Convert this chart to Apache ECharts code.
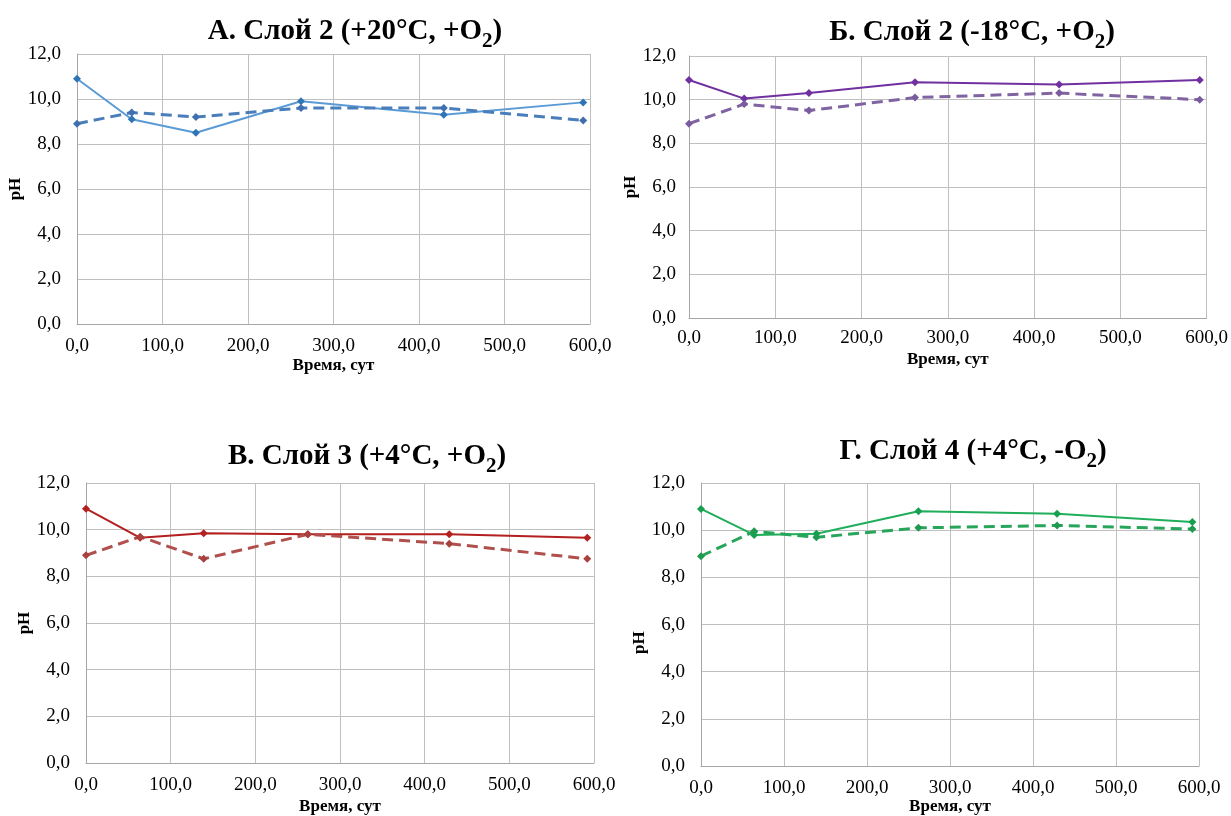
<!DOCTYPE html>
<html>
<head>
<meta charset="utf-8">
<script src="https://cdn.jsdelivr.net/npm/echarts@6/dist/echarts.min.js"></script>
<style>
  html, body { margin: 0; padding: 0; background: #fff; }
  #chart { width: 1231px; height: 816px; }
</style>
</head>
<body>
<div id="chart"></div>
<script>
// время, сут
const days = [0, 64, 139, 262, 429, 592];

// pH, сплошная и пунктирная линии для каждой панели
const phA_solid = [10.9, 9.1, 8.5, 9.9, 9.3, 9.85];
const phA_dash = [8.9, 9.4, 9.2, 9.6, 9.6, 9.05];
const phB_solid = [10.9, 10.05, 10.3, 10.8, 10.7, 10.9];
const phB_dash = [8.9, 9.8, 9.5, 10.1, 10.3, 10.0];
const phV_solid = [10.9, 9.65, 9.85, 9.8, 9.8, 9.65];
const phV_dash = [8.9, 9.7, 8.75, 9.8, 9.4, 8.75];
const phG_solid = [10.9, 9.8, 9.85, 10.8, 10.7, 10.35];
const phG_dash = [8.9, 9.95, 9.7, 10.1, 10.2, 10.05];

const titles = [
  "А. Слой 2 (+20°C, +O{s|2})",
  "Б. Слой 2 (-18°C, +O{s|2})",
  "В. Слой 3 (+4°C, +O{s|2})",
  "Г. Слой 4 (+4°C, -O{s|2})",
];

const serif = "'Liberation Serif', 'DejaVu Serif', serif";
const fmt = (v) => v.toFixed(1).replace(".", ",");

// панели: сетка, заголовок, отступы подписей и цвета
const panels = [
  { grid: { left: 77, top: 54, width: 513, height: 270 }, tx: 350, ty: 6,
    lm: 13, ng: 31, ym: 16, yg: 50, yp: 0,
    solid: phA_solid, dash: phA_dash, c1: "#5b9bd5", m1: "#2e75b6", c2: "#4a7ebb", m2: "#3f6fae" },
  { grid: { left: 689, top: 56, width: 518, height: 262 }, tx: 967, ty: 7,
    lm: 11, ng: 33, ym: 13, yg: 40, yp: 0,
    solid: phB_solid, dash: phB_dash, c1: "#7030a0", m1: "#7030a0", c2: "#8064a2", m2: "#7a5c9e" },
  { grid: { left: 86, top: 483, width: 508, height: 280 }, tx: 362, ty: 431,
    lm: 13, ng: 35, ym: 16, yg: 47, yp: 0,
    solid: phV_solid, dash: phV_dash, c1: "#b41f1f", m1: "#b41f1f", c2: "#b0504d", m2: "#a8403d" },
  { grid: { left: 701, top: 483, width: 498, height: 286 }, tx: 968, ty: 426,
    lm: 12, ng: 30, ym: 16, yg: 46, yp: 36,
    solid: phG_solid, dash: phG_dash, c1: "#1fae5a", m1: "#18a050", c2: "#27a55a", m2: "#1f9a50" },
];

const option = {
  animation: false,
  title: [],
  grid: [],
  xAxis: [],
  yAxis: [],
  series: [],
};

panels.forEach((p, i) => {
  option.title.push({
    text: titles[i],
    left: p.tx,
    top: p.ty,
    textAlign: "center",
    textStyle: {
      fontFamily: serif,
      fontSize: 29,
      fontWeight: "bold",
      color: "#000",
      rich: {
        s: { fontFamily: serif, fontSize: 21, fontWeight: "bold", color: "#000", padding: [20, 0, 0, 0] },
      },
    },
  });
  option.grid.push(p.grid);
  option.xAxis.push({
    type: "value",
    gridIndex: i,
    min: 0,
    max: 600,
    interval: 100,
    name: "Время, сут",
    nameLocation: "middle",
    nameGap: p.ng,
    nameTextStyle: { fontFamily: serif, fontSize: 17, fontWeight: "bold", color: "#000" },
    axisLine: { show: true, lineStyle: { color: "#a6a6a6" } },
    axisTick: { show: false },
    axisLabel: { fontFamily: serif, fontSize: 19, color: "#000", margin: p.lm, formatter: fmt },
    splitLine: { show: true, lineStyle: { color: "#bfbfbf" } },
  });
  option.yAxis.push({
    type: "value",
    gridIndex: i,
    min: 0,
    max: 12,
    interval: 2,
    name: "pH",
    nameLocation: "middle",
    nameGap: p.yg,
    nameTextStyle: { fontFamily: serif, fontSize: 17, fontWeight: "bold", color: "#000", padding: [0, p.yp, 0, 0] },
    axisLine: { show: true, lineStyle: { color: "#a6a6a6" } },
    axisTick: { show: false },
    axisLabel: { fontFamily: serif, fontSize: 19, color: "#000", margin: p.ym, formatter: fmt },
    splitLine: { show: true, lineStyle: { color: "#bfbfbf" } },
  });
  option.series.push({
    type: "line",
    xAxisIndex: i,
    yAxisIndex: i,
    data: days.map((d, k) => [d, p.solid[k]]),
    symbol: "diamond",
    symbolSize: 8,
    lineStyle: { color: p.c1, width: 2 },
    itemStyle: { color: p.m1 },
  });
  option.series.push({
    type: "line",
    xAxisIndex: i,
    yAxisIndex: i,
    data: days.map((d, k) => [d, p.dash[k]]),
    symbol: "diamond",
    symbolSize: 8,
    lineStyle: { color: p.c2, width: 3, type: [11, 6] },
    itemStyle: { color: p.m2 },
  });
});

const chart = echarts.init(document.getElementById("chart"));
chart.setOption(option);
</script>
</body>
</html>
